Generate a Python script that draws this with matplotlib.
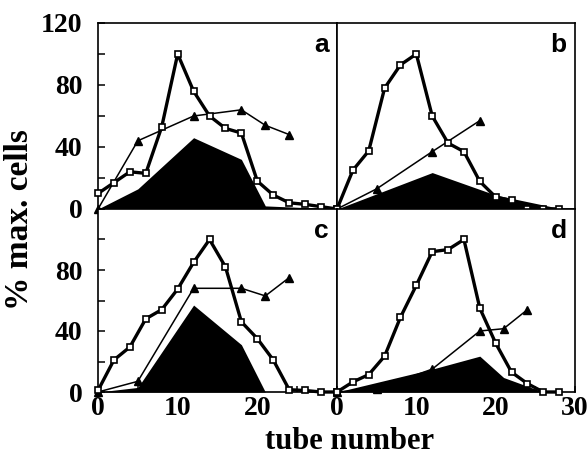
import numpy as np
import matplotlib.pyplot as plt

# tube numbers (squares every 2nd tube)
a_sq_x = [0, 2, 4, 6, 8, 10, 12, 14, 16, 18, 20, 22, 24, 26, 28, 30]
a_sq = [10, 17, 24, 23, 53, 100, 76, 60, 52, 49, 18, 9, 4, 3, 1.5, 0]
a_tri_x = [0, 5, 12, 18, 21, 24]
a_tri = [0, 44, 60, 64, 54, 48]
a_fill_x = [0, 5, 12, 18, 21, 30]
a_fill = [0, 13, 46, 32, 2, 0]

b_sq_x = [0, 2, 4, 6, 8, 10, 12, 14, 16, 18, 20, 22, 24, 26, 28]
b_sq = [0, 25, 37.5, 78, 93, 100, 60, 42.5, 37, 17.8, 7.7, 5.5, 0, 0, 0]
b_tri_x = [0, 5, 12, 18]
b_tri = [0, 13, 37, 57]
b_fill_x = [0, 12, 20, 27, 29]
b_fill = [0, 23.5, 9, 1.5, 0]

c_sq_x = [0, 2, 4, 6, 8, 10, 12, 14, 16, 18, 20, 22, 24, 26, 28, 30]
c_sq = [1, 21, 29.5, 48, 54, 67.5, 85, 100, 82, 46, 35, 21, 1.5, 1, 0, 0]
c_tri_x = [0, 5, 12, 18, 21, 24]
c_tri = [0, 7, 68, 68, 63, 75]
c_fill_x = [0, 5, 12, 18, 21]
c_fill = [0, 3, 57, 31, 0]

d_sq_x = [0, 2, 4, 6, 8, 10, 12, 14, 16, 18, 20, 22, 24, 26, 28]
d_sq = [0, 6.6, 11.4, 23.5, 49, 70, 92, 93.4, 100, 55, 32, 13, 5.5, 0, 0]
d_tri_x = [0, 5, 12, 18, 21, 24]
d_tri = [0, 2, 15, 40, 41.5, 54]
d_fill_x = [0, 12, 18, 21, 26]
d_fill = [0, 15, 23.5, 9.5, 0]

W, H = 588, 461
fig = plt.figure(figsize=(W / 100, H / 100), dpi=100)

serif = 'Liberation Serif'


def box(l, t, r, b):
    return [l / W, 1 - b / H, (r - l) / W, (b - t) / H]


panels = [
    ('a', box(98, 23, 337, 209), a_sq_x, a_sq, a_tri_x, a_tri, a_fill_x, a_fill),
    ('b', box(337, 23, 575, 209), b_sq_x, b_sq, b_tri_x, b_tri, b_fill_x, b_fill),
    ('c', box(98, 209, 337, 392), c_sq_x, c_sq, c_tri_x, c_tri, c_fill_x, c_fill),
    ('d', box(337, 209, 575, 392), d_sq_x, d_sq, d_tri_x, d_tri, d_fill_x, d_fill),
]

for i, (lab, rect, sx, sy, tx, ty, fx, fy) in enumerate(panels):
    ax = fig.add_axes(rect)
    ax.fill_between(fx, fy, 0, color='black', lw=0, zorder=1)
    ax.plot(tx, ty, '-', color='black', lw=1.1, marker='^', ms=5.5,
            mfc='black', mec='black', clip_on=False, zorder=2)
    ax.plot(sx, sy, '-', color='black', lw=2.4, marker='s', ms=4.8,
            mfc='white', mec='black', mew=1.2, clip_on=False, zorder=3)
    ax.set_xlim(0, 30)
    ax.set_ylim(0, 120)
    for s in ax.spines.values():
        s.set_linewidth(1.2)
    ax.text(0.965, 0.88, lab, transform=ax.transAxes, ha='right', va='center',
            fontsize=19, fontweight='bold', family='Liberation Sans')

    left = i % 2 == 0
    bottom = i >= 2
    ax.set_xticks([0, 5, 10, 15, 20, 25, 30])
    if bottom:
        xl = ['0', '', '10', '', '20', '', '30' if not left else '']
        ax.set_xticklabels(xl)
        ax.tick_params(axis='x', direction='in', length=4, width=1.1, pad=3,
                       labelsize=20)
    else:
        ax.tick_params(axis='x', length=0, labelbottom=False)
    if left:
        ax.set_yticks([0, 20, 40, 60, 80, 100, 120])
        if bottom:
            yl = ['0', '', '40', '', '80', '', '']
        else:
            yl = ['0', '', '40', '', '80', '', '120']
        ax.set_yticklabels(yl)
        ax.tick_params(axis='y', direction='in', length=5, width=1.1, pad=11,
                       labelsize=20)
    else:
        ax.set_yticks([])
    for t in ax.get_xticklabels() + ax.get_yticklabels():
        t.set_family(serif)
        t.set_fontweight('bold')

fig.text(350 / W, 1 - 441 / H, 'tube number', ha='center', va='center',
         fontsize=22, fontweight='bold', family=serif)
fig.text(20 / W, 1 - 220 / H, '% max. cells', ha='center', va='center',
         rotation=90, fontsize=24, fontweight='bold', family=serif)

fig.savefig('out.png', dpi=100)
